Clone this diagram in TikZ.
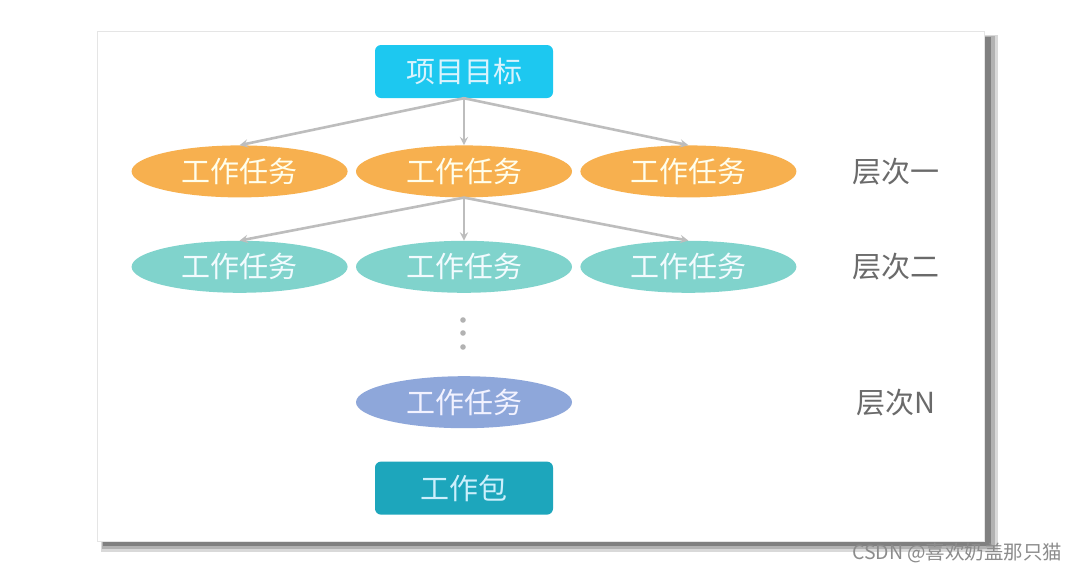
\documentclass[tikz,border=0pt]{standalone}
\usepackage{fontspec}
\usepackage{tikz}
\usetikzlibrary{shapes.geometric, arrows, positioning, shadows}
\usepackage{xcolor}
\newfontfamily\cjk{Noto Sans CJK SC}

\definecolor{goalcyan}{HTML}{1DC8F0}
\definecolor{taskorange}{HTML}{F7B04F}
\definecolor{taskteal}{HTML}{80D3CC}
\definecolor{taskblue}{HTML}{8EA7DA}
\definecolor{packteal}{HTML}{1DA6BC}
\definecolor{arrowgray}{HTML}{BDBDBD}
\definecolor{levelgray}{HTML}{6A6A6A}

\begin{document}
\begin{tikzpicture}[
    x=1pt, y=-1pt,
    box/.style={draw=none, rectangle, rounded corners=6pt, minimum width=178pt, minimum height=53pt, inner sep=0pt, font=\cjk\fontsize{29}{32}\selectfont},
    task/.style={draw=none, ellipse, minimum width=216pt, minimum height=52pt, inner sep=0pt, font=\cjk\fontsize{29}{32}\selectfont},
    level/.style={text=levelgray, font=\cjk\fontsize{29}{32}\selectfont},
    arrow/.style={draw=arrowgray, line width=2.6pt, ->, >=stealth}
]
\useasboundingbox (0,0) rectangle (1080,574);

% Slide
\fill[white] (0,0) rectangle (1080,574);
\fill[black!15] (101,35) rectangle (998,552);
\fill[black!30] (102,36) rectangle (995,549);
\fill[black!50] (103,37) rectangle (991,546);
\draw[draw=black!10, fill=white] (97,31) rectangle (984,541);

% Goal and first level
\node (goal) [box, fill=goalcyan, text=cyan!15] at (464,71.5) {项目目标};
\node (t12) [task, fill=taskorange, text=yellow!8, below=47pt of goal] {工作任务};
\node (t11) [task, fill=taskorange, text=yellow!8, left=8pt of t12] {工作任务};
\node (t13) [task, fill=taskorange, text=yellow!8, right=8pt of t12] {工作任务};

% Second level
\node (t22) [task, fill=taskteal, text=cyan!5, below=43pt of t12] {工作任务};
\node (t21) [task, fill=taskteal, text=cyan!5, left=8pt of t22] {工作任务};
\node (t23) [task, fill=taskteal, text=cyan!5, right=8pt of t22] {工作任务};

% Level N and work package
\node (tN) [task, fill=taskblue, text=blue!5, below=83pt of t22] {工作任务};
\node (pack) [box, fill=packteal, text=cyan!20, below=33pt of tN] {工作包};

\foreach \y in {320,333,347}
    \fill[black!30] (463,\y) circle (2.8pt);

\draw [arrow] (goal.south) -- (t11.north);
\draw [arrow] (goal.south) -- (t12.north);
\draw [arrow] (goal.south) -- (t13.north);
\draw [arrow] (t12.south) -- (t21.north);
\draw [arrow] (t12.south) -- (t22.north);
\draw [arrow] (t12.south) -- (t23.north);

% Level labels
\node (lvl1) [level, right=52pt of t13] {层次一};
\node (lvl2) [level] at (lvl1 |- t23) {层次二};
\node (lvl3) [level] at (lvl1 |- tN) {层次N};

% Watermark
\node (mark) [anchor=east, text=black!45, font=\cjk\fontsize{19.5}{21}\selectfont] at (1066,553) {CSDN @喜欢奶盖那只猫};

\end{tikzpicture}
\end{document}
